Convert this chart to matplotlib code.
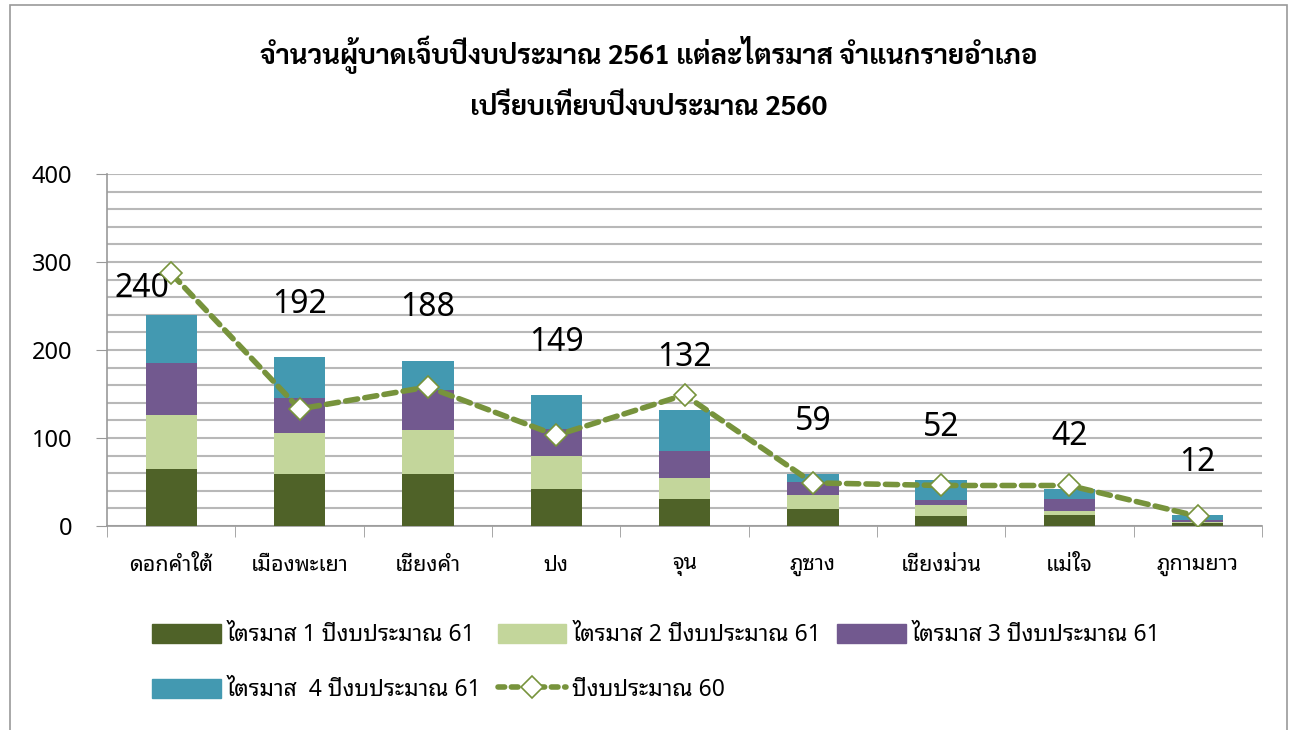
import numpy as np
from matplotlib import pyplot as plt
from matplotlib.patches import Rectangle, Patch
from matplotlib.lines import Line2D

districts = ['ดอกคำใต้', 'เมืองพะเยา', 'เชียงคำ', 'ปง', 'จุน', 'ภูซาง', 'เชียงม่วน', 'แม่ใจ', 'ภูกามยาว']
q1 = [65, 59, 59, 42, 31, 19, 11, 13, 3]
q2 = [61, 47, 50, 38, 24, 16, 13, 4, 2]
q3 = [59, 40, 46, 30, 30, 15, 6, 14, 2]
q4 = [55, 46, 33, 39, 47, 9, 22, 11, 5]
totals = [240, 192, 188, 149, 132, 59, 52, 42, 12]
fy60 = [287, 133, 158, 103, 149, 49, 46, 46, 11]

series_names = ['ไตรมาส 1 ปีงบประมาณ 61', 'ไตรมาส 2 ปีงบประมาณ 61',
                'ไตรมาส 3 ปีงบประมาณ 61', 'ไตรมาส  4 ปีงบประมาณ 61']
line_name = 'ปีงบประมาณ 60'
title = 'จำนวนผู้บาดเจ็บปีงบประมาณ 2561 แต่ละไตรมาส จำแนกรายอำเภอ\nเปรียบเทียบปีงบประมาณ 2560'

colors = ['#4F6228', '#C3D69B', '#72598F', '#4399B1']
line_color = '#77933C'

plt.rcParams['font.family'] = ['Noto Sans Thai Looped', 'Noto Sans Thai', 'Sarabun', 'DejaVu Sans']

fig = plt.figure(figsize=(12.93, 7.3), dpi=100)
ax = fig.add_axes([0.0828, 0.2795, 0.8932, 0.4821])

x = np.arange(len(districts))
bottom = np.zeros(len(districts))
for vals, c in zip([q1, q2, q3, q4], colors):
    ax.bar(x, vals, 0.4, bottom=bottom, color=c, zorder=3)
    bottom += np.array(vals)

ax.plot(x, fy60, color=line_color, lw=4, ls=(0, (2.2, 1.3)), dash_capstyle='round',
        marker='D', ms=11, mfc='white', mec=line_color, mew=1.2, zorder=4)

# total labels sit above the bars (first one was dragged left in the original)
for i, t in enumerate(totals):
    off = (-21, 19) if i == 0 else (0, 38)
    ax.annotate(str(t), (x[i], t), xytext=off, textcoords='offset points',
                ha='center', va='center', fontsize=23)

ax.set_xlim(-0.5, len(districts) - 0.5)
ax.set_ylim(0, 400)
ax.set_yticks(range(0, 401, 100))
ax.set_yticks(range(0, 401, 20), minor=True)
ax.tick_params(axis='y', which='major', length=8, color='#999999', labelsize=17, pad=17)
ax.tick_params(axis='y', which='minor', length=0)
ax.grid(axis='y', which='both', color='#b8b8b8', lw=1.5, zorder=0)

ax.set_xticks(x)
ax.set_xticklabels(districts, fontsize=15.5)
ax.tick_params(axis='x', which='major', length=0, pad=21)
ax.set_xticks(np.arange(-0.5, len(districts)), minor=True)
ax.tick_params(axis='x', which='minor', length=8, color='#999999')

for s in ['top', 'right']:
    ax.spines[s].set_visible(False)
ax.spines['left'].set_color('#999999')
ax.spines['bottom'].set_color('#999999')
ax.spines['left'].set_linewidth(1.2)
ax.spines['bottom'].set_linewidth(1.2)

fig.text(0.502, 0.893, title, ha='center', va='center', fontsize=19.8, fontweight='bold',
         family=['Sarabun', 'Noto Sans Thai', 'DejaVu Sans'], linespacing=2.0)

handles = [Patch(color=c) for c in colors]
handles.append(Line2D([0], [0], color=line_color, lw=4, ls=(0, (1.2, 1.2)), dash_capstyle='round',
                      marker='D', ms=11, mfc='white', mec=line_color, mew=1.2))
labels = series_names + [line_name]
order = [0, 3, 1, 4, 2]
fig.legend([handles[i] for i in order], [labels[i] for i in order], ncol=3,
           loc='upper left', bbox_to_anchor=(0.109, 0.162), frameon=False, fontsize=16.5,
           handlelength=3.0, handleheight=0.9, handletextpad=0.25, columnspacing=0.7,
           labelspacing=1.35, borderpad=0)

fig.add_artist(Rectangle((10 / 1293, -0.1), 1277 / 1293, 1.1 - 5 / 730, transform=fig.transFigure,
                         fill=False, ec='#9a9a9a', lw=1.2))

fig.savefig('out.png', dpi=100)
